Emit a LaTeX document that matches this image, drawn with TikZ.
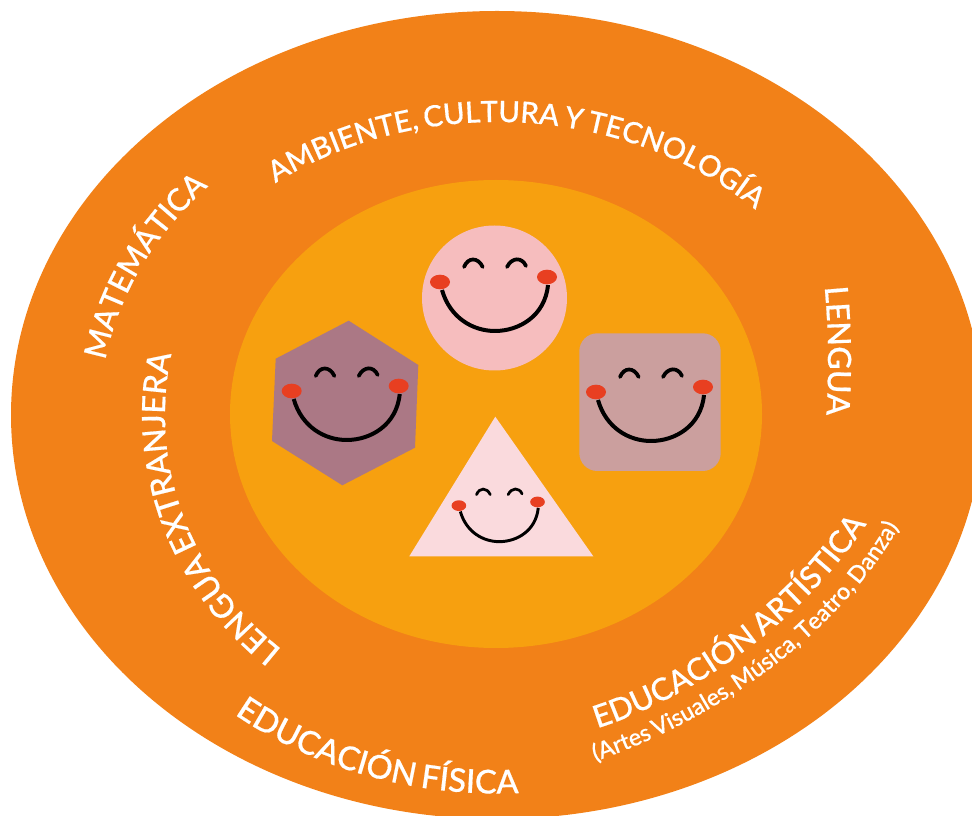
\documentclass[tikz,border=0pt]{standalone}
\usepackage{fontspec}
\setmainfont{Lato}[UprightFont=* Medium, FakeBold=0.5, WordSpace=0.7]
\usetikzlibrary{decorations.text}
\definecolor{ringorange}{HTML}{F28118}
\definecolor{coreorange}{HTML}{F7A00F}
\definecolor{facepink}{HTML}{F6BDBE}
\definecolor{facemauve}{HTML}{AB7885}
\definecolor{facerose}{HTML}{CB9F9E}
\definecolor{facepale}{HTML}{FADADD}
\definecolor{cheekred}{HTML}{E83F21}
\newcommand{\bigtext}{\fontsize{24}{24}\selectfont\color{white}}
\newcommand{\midtext}{\fontsize{23.3}{24}\selectfont\color{white}}
\newcommand{\toptext}{\fontsize{22}{22}\selectfont\color{white}}
\newcommand{\smalltext}{\fontsize{17.5}{18}\selectfont\color{white}}
\tikzset{
  arctext/.style={decorate, decoration={text along path, text align=center, text={#1}}},
}
\begin{document}
\begin{tikzpicture}[x=0.75pt, y=-0.75pt]
  \useasboundingbox (0,0) rectangle (972,816);
  \clip (0,0) rectangle (972,816);
  \fill[ringorange] (497,415) ellipse [x radius=486, y radius=404];
  \fill[coreorange] (496,414) ellipse [x radius=266, y radius=234];
  % the four shapes
  \fill[facepink] (494.5,298) ellipse [x radius=72.5, y radius=72.5];
  \fill[facemauve] (348.7,320.7) -- (418.3,365) -- (415,447.7) -- (342.3,485.3) -- (272,441) -- (275.7,358.7) -- cycle;
  \fill[facerose, rounded corners=18*0.75pt] (579.3,333.3) rectangle (720.7,471);
  \fill[facepale] (495.3,416.7) -- (593.3,556.3) -- (409.3,556.3) -- cycle;
  % the faces
  \foreach \fx/\fy/\fs in {495/298/1, 346.7/407/1, 651/408/1, 499.3/517.4/0.735} {
    \begin{scope}[shift={(\fx,\fy)}, scale=\fs]
      \pgfmathsetmacro{\mouthw}{3*\fs}
      \pgfmathsetmacro{\eyew}{2.8*\fs}
      \draw[line width=\mouthw pt] (-53,-8) .. controls (-45,20) and (-22,33) .. (0,33) .. controls (24,33) and (50,18) .. (53,-13);
      \draw[line width=\eyew pt, line cap=round] (-31,-31) .. controls (-27,-41) and (-17,-41) .. (-12.3,-31);
      \draw[line width=\eyew pt, line cap=round] (12,-31) .. controls (17,-41) and (27,-41) .. (31,-32);
      \fill[cheekred] (-55,-16) ellipse [x radius=10, y radius=7.3];
      \fill[cheekred] (52,-21) ellipse [x radius=10, y radius=7.3];
    \end{scope}
  }
  % the labels on the ring
  \path[arctext={|\toptext|AMBIENTE, CULTURA Y TECNOLOGÍA}] (497,415) ++(-135:362 and 293) arc [start angle=-135, end angle=-37, x radius=362, y radius=293];
  \path[arctext={|\midtext|MATEMÁTICA}] (497,415) ++(-179:397 and 333) arc [start angle=-179, end angle=-129, x radius=397, y radius=333];
  \path[arctext={|\bigtext|LENGUA}] (824,280) .. controls (829,330) and (829,370) .. (826,422);
  \path[arctext={|\bigtext|LENGUA EXTRANJERA}] (497,415) ++(125:332 and 308) arc [start angle=125, end angle=197, x radius=332, y radius=308];
  \path[arctext={|\fontsize{24.6}{25}\selectfont\color{white}|EDUCACIÓN FÍSICA}] (497,415) ++(132:429 and 378.5) arc [start angle=132, end angle=83, x radius=429, y radius=378.5];
  \path[arctext={|\midtext|EDUCACIÓN ARTÍSTICA}] (595,729) .. controls (670,706) and (790,640) .. (868,522);
  \path[arctext={|\smalltext|(Artes Visuales, Música, Teatro, Danza)}] (593,762) .. controls (690,730) and (830,650) .. (900,525);
\end{tikzpicture}
\end{document}
